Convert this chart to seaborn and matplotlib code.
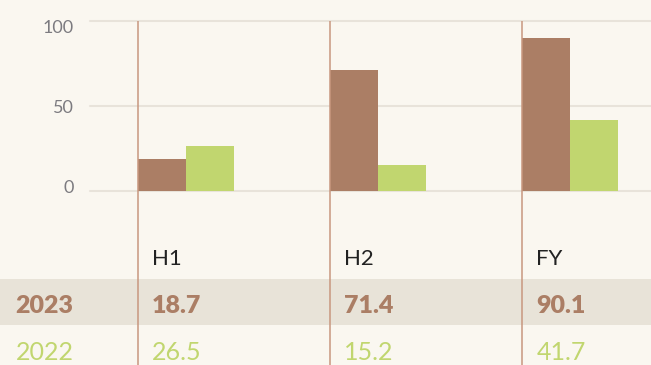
import matplotlib
matplotlib.use("Agg")
import matplotlib.pyplot as plt
import seaborn as sns
import pandas as pd

# Data
periods = ["H1", "H2", "FY"]
values_2023 = [18.7, 71.4, 90.1]
values_2022 = [26.5, 15.2, 41.7]
years = ["2023", "2022"]
ytick_values = [0, 50, 100]

BG = "#faf7f0"
BROWN = "#ab7e65"
GREEN = "#c1d66f"
BAND = "#e8e3d8"
VLINE = "#c8977f"
GRID = "#e8e3da"
TICK = "#7c7b80"

sns.set_theme(style="white")
plt.rcParams["font.family"] = ["Lato", "DejaVu Sans"]

df = pd.DataFrame({
    "period": periods * 2,
    "value": values_2023 + values_2022,
    "year": [years[0]] * 3 + [years[1]] * 3,
})

fig = plt.figure(figsize=(6.51, 3.65), dpi=100, facecolor=BG)
ax = fig.add_axes([0, 0, 1, 1])
ax.set_facecolor(BG)

sns.barplot(data=df, x="period", y="value", hue="year", order=periods,
            hue_order=years, palette=[BROWN, GREEN], width=0.5,
            saturation=1, legend=False, ax=ax, zorder=2, linewidth=0)

# axis ranges: the axes fill the figure, the table lives below zero
XMIN, XMAX = -0.96875, 2.42
YMIN, YMAX = -102.35, 112.35
ax.set_xlim(XMIN, XMAX)
ax.set_ylim(YMIN, YMAX)

# grid lines
for v in ytick_values:
    ax.plot([-0.5, XMAX], [v, v], color=GRID, lw=1.5, zorder=0)

# table band for 2023 row
ax.axhspan(-78.8, -51.8, color=BAND, lw=0, zorder=0)

# divider lines at the left of each group
for i in range(len(periods)):
    ax.plot([i - 0.25, i - 0.25], [100, YMIN], color=VLINE, lw=1.1,
            zorder=3, solid_capstyle="butt")

# y tick labels (kept inside the plotting band)
tick_shift = [-1.2, -4.1, -7.1]
for v, dy in zip(ytick_values, tick_shift):
    ax.text(-0.585, v + dy, str(v), ha="right", va="baseline",
            fontsize=13, color=TICK)

# table rows (baselines)
ROW_HEAD, ROW_A, ROW_B = -43.5, -71.8, -99.4
xoff = 0.073
for i, p in enumerate(periods):
    x = i - 0.25 + xoff
    ax.text(x, ROW_HEAD, p, ha="left", va="baseline", fontsize=16,
            color="#222222")
    ax.text(x, ROW_A, f"{values_2023[i]:.1f}", ha="left", va="baseline",
            fontsize=18, fontweight="heavy", color=BROWN)
    ax.text(x, ROW_B, f"{values_2022[i]:.1f}", ha="left", va="baseline",
            fontsize=18, color=GREEN)

ax.text(-0.585, ROW_A, years[0], ha="right", va="baseline", fontsize=18,
        fontweight="heavy", color=BROWN)
ax.text(-0.585, ROW_B, years[1], ha="right", va="baseline", fontsize=18,
        color=GREEN)

ax.set_xlabel("")
ax.set_ylabel("")
ax.set_xticks([])
ax.set_yticks([])
for s in ax.spines.values():
    s.set_visible(False)

fig.savefig("out.png", dpi=100, facecolor=BG)
